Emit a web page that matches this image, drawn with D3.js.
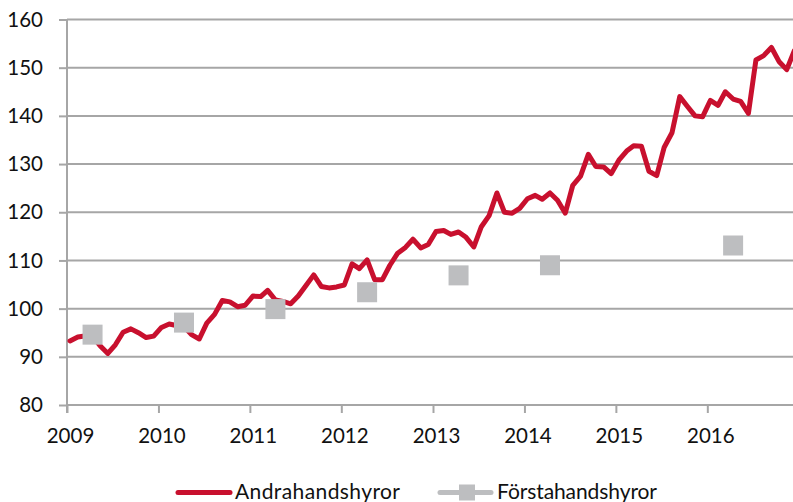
<!DOCTYPE html>
<html><head><meta charset="utf-8">
<script src="https://cdn.jsdelivr.net/npm/d3@7"></script>
<style>
html,body{margin:0;padding:0;background:#fff;}
svg{display:block;font-family:Lato,"Liberation Sans",Arial,sans-serif;}
</style></head>
<body>
<svg id="chart" width="793" height="502"></svg>
<script>
// Monthly index (Jan 2009 – Dec 2016)
const startYear = 2009;
const andrahandshyror = [
  93.3, 94.1, 94.3, 94.3, 92.3, 90.7, 92.5, 95.1, 95.8, 95.0, 94.0, 94.3,
  96.1, 96.8, 96.5, 96.3, 94.6, 93.7, 97.0, 98.8, 101.7, 101.4, 100.4, 100.7,
  102.6, 102.5, 103.8, 101.8, 101.5, 101.0, 102.6, 104.8, 107.0, 104.6, 104.3, 104.5,
  104.9, 109.3, 108.3, 110.1, 106.0, 106.0, 109.0, 111.5, 112.7, 114.4, 112.6, 113.3,
  116.0, 116.2, 115.4, 115.9, 114.8, 112.8, 117.0, 119.3, 124.0, 120.0, 119.8, 120.8,
  122.8, 123.5, 122.7, 124.0, 122.5, 119.8, 125.6, 127.5, 132.0, 129.5, 129.4, 128.0,
  130.8, 132.7, 133.8, 133.7, 128.5, 127.6, 133.5, 136.5, 144.0, 142.0, 140.0, 139.8,
  143.2, 142.2, 145.0, 143.5, 143.0, 140.5, 151.6, 152.5, 154.2, 151.3, 149.6, 153.5
];
// Annual values plotted in April of each year (2015 missing)
const forstaYears = [2009, 2010, 2011, 2012, 2013, 2014, 2015, 2016];
const forstahandshyror = [94.6, 97.1, 99.9, 103.4, 106.9, 109.0, null, 113.1];
const yTicks = [80, 90, 100, 110, 120, 130, 140, 150, 160];
const xTickYears = [2009, 2010, 2011, 2012, 2013, 2014, 2015, 2016];
const seriesNames = ["Andrahandshyror", "Förstahandshyror"];
const colors = {red: "#C8102E", gray: "#BDBEC0", grid: "#A6A6A6", text: "#111"};
const FONT = "Lato, 'Liberation Sans', Arial, sans-serif";

const svg = d3.select("#chart");
const mLeft = 67, mTop = 19.5, mBottom = 405, yearW = 91.5;

const x = d3.scaleTime()
  .domain([new Date(2009, 0, 1), new Date(2017, 0, 1)])
  .range([mLeft, mLeft + 8 * yearW]);
const y = d3.scaleLinear().domain([80, 160]).range([mBottom, mTop]);

const lineData = andrahandshyror.map((v, i) => ({d: new Date(startYear, i, 13), v}));
const sqData = forstaYears.map((yr, i) => ({d: new Date(yr, 3, 13), v: forstahandshyror[i]}))
  .filter(p => p.v != null);

// gridlines
svg.append("g").selectAll("line").data(yTicks.filter(t => t > 80)).join("line")
  .attr("x1", mLeft).attr("x2", 793)
  .attr("y1", d => y(d)).attr("y2", d => y(d))
  .attr("stroke", colors.grid).attr("stroke-width", 2);

// y axis
const yAxis = svg.append("g").attr("transform", `translate(${mLeft},0)`)
  .call(d3.axisLeft(y).tickValues(yTicks).tickSize(8).tickPadding(16).tickFormat(d3.format("d")));
yAxis.select(".domain").remove();
yAxis.selectAll(".tick line").attr("stroke", colors.grid).attr("stroke-width", 2);
yAxis.selectAll(".tick text").attr("font-size", 20.5).attr("fill", colors.text)
  .attr("font-family", FONT);
svg.append("line").attr("x1", mLeft).attr("x2", mLeft).attr("y1", mTop).attr("y2", mBottom + 8)
  .attr("stroke", colors.grid).attr("stroke-width", 2);

// x axis
const xAxis = svg.append("g").attr("transform", `translate(0,${mBottom})`)
  .call(d3.axisBottom(x).tickValues(xTickYears.map(yr => new Date(yr, 0, 1)))
    .tickSize(8).tickPadding(15).tickFormat(d3.timeFormat("%Y")));
xAxis.select(".domain").remove();
xAxis.selectAll(".tick line").attr("stroke", colors.grid).attr("stroke-width", 2);
xAxis.selectAll(".tick text").attr("font-size", 20.5).attr("fill", colors.text)
  .attr("font-family", FONT).attr("dx", 3);
svg.append("line").attr("x1", mLeft).attr("x2", 793).attr("y1", mBottom).attr("y2", mBottom)
  .attr("stroke", colors.grid).attr("stroke-width", 2);

// line series
svg.append("path").datum(lineData)
  .attr("fill", "none").attr("stroke", colors.red).attr("stroke-width", 5)
  .attr("stroke-linejoin", "round").attr("stroke-linecap", "round")
  .attr("d", d3.line().x(d => x(d.d)).y(d => y(d.v)));

// square markers
svg.append("g").selectAll("rect").data(sqData).join("rect")
  .attr("x", d => x(d.d) - 10).attr("y", d => y(d.v) - 10)
  .attr("width", 20).attr("height", 20).attr("fill", colors.gray);

// legend
const lg = svg.append("g").attr("font-family", FONT)
  .attr("font-size", 21).attr("fill", colors.text);
lg.append("line").attr("x1", 178).attr("x2", 230).attr("y1", 492.5).attr("y2", 492.5)
  .attr("stroke", colors.red).attr("stroke-width", 5).attr("stroke-linecap", "round");
lg.append("text").attr("x", 235).attr("y", 499)
  .attr("textLength", 165).attr("lengthAdjust", "spacing").text(seriesNames[0]);
lg.append("line").attr("x1", 440).attr("x2", 491).attr("y1", 492.5).attr("y2", 492.5)
  .attr("stroke", colors.gray).attr("stroke-width", 5).attr("stroke-linecap", "round");
lg.append("rect").attr("x", 459).attr("y", 484.5).attr("width", 16).attr("height", 16).attr("fill", colors.gray);
lg.append("text").attr("x", 497).attr("y", 499)
  .attr("textLength", 160).attr("lengthAdjust", "spacing").text(seriesNames[1]);
</script>
</body></html>
